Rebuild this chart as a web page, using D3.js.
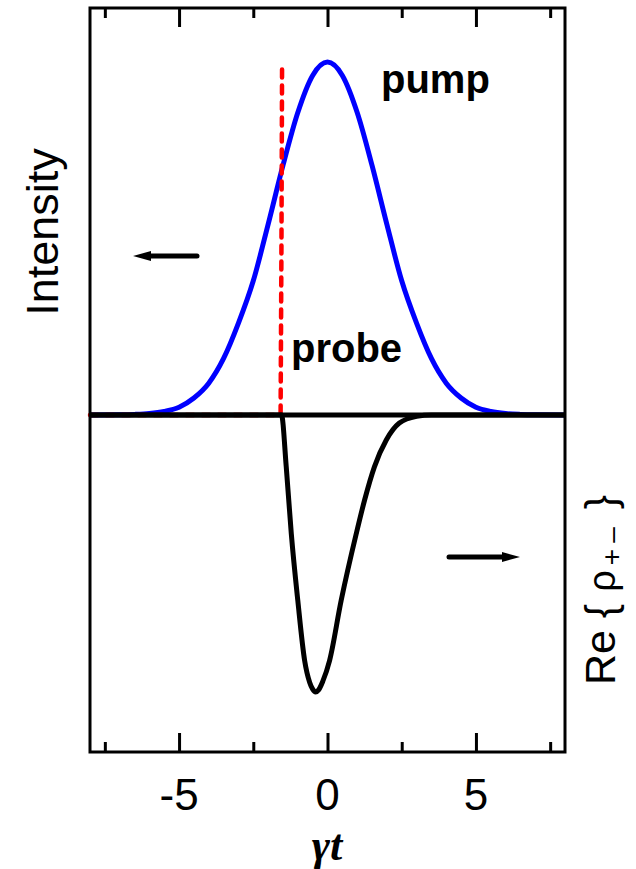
<!DOCTYPE html>
<html>
<head>
<meta charset="utf-8">
<script src="https://cdn.jsdelivr.net/npm/d3@7"></script>
<style>
  body { margin: 0; background: #fff; }
  svg text { font-family: Arial, "Liberation Sans", sans-serif; }
</style>
</head>
<body>
<div id="chart"></div>
<script>
// pump pulse (blue)
var pumpT = [-8, -7, -6.5, -6, -5.5, -5, -4.5, -4, -3.5, -3, -2.5, -2, -1.5, -1, -0.5, 0,
             0.5, 1, 1.5, 2, 2.5, 3, 3.5, 4, 4.5, 5, 5.5, 6, 6.5, 7, 8];
var pumpV = [0, 0.0005, 0.0015, 0.004, 0.01, 0.022, 0.048, 0.09, 0.16, 0.26, 0.38, 0.54, 0.707, 0.857, 0.962, 1,
             0.962, 0.857, 0.707, 0.54, 0.38, 0.26, 0.16, 0.09, 0.048, 0.022, 0.01, 0.004, 0.0015, 0.0005, 0];

// probe (red dashed)
var probeT = [-8, -1.58, -1.55, -1.53];
var probeV = [0, 0, 0.5, 1.0];

// Re{rho+-} (black)
var reT = [-8, -1.55, -1.39, -1.22, -1.0, -0.77, -0.6, -0.5, -0.4, -0.3, -0.16, 0.07, 0.46, 0.97, 1.25, 1.58, 1.98, 2.42, 3.0, 3.5, 8];
var reV = [0, 0, -0.147, -0.336, -0.526, -0.696, -0.758, -0.777, -0.785, -0.779, -0.755, -0.696, -0.526, -0.336, -0.241, -0.147, -0.071, -0.023, -0.004, 0, 0];

var majorTicks = [-5, 0, 5];
var minorTicks = [-7.5, -2.5, 2.5, 7.5];

var W = 636, H = 869;
var margin = {top: 8, right: 71, bottom: 117, left: 90};
var width = W - margin.left - margin.right,
    height = H - margin.top - margin.bottom;

var svg = d3.select('#chart').append('svg')
    .attr('width', W)
    .attr('height', H);

var g = svg.append('g')
    .attr('transform', 'translate(' + margin.left + ',' + margin.top + ')');

var x = d3.scaleLinear().domain([-8, 8]).range([0, width]);
var y = d3.scaleLinear().domain([-0.955, 1.153]).range([height, 0]);

var line = d3.line()
    .curve(d3.curveMonotoneX)
    .x(d => x(d[0]))
    .y(d => y(d[1]));

// pump
g.append('path')
    .datum(pumpT.map((t, i) => [t, pumpV[i]]))
    .attr('fill', 'none')
    .attr('stroke', '#0000ff')
    .attr('stroke-width', 5)
    .attr('d', line);

// probe
g.append('path')
    .datum(probeT.map((t, i) => [t, probeV[i]]))
    .attr('fill', 'none')
    .attr('stroke', '#ff0000')
    .attr('stroke-width', 4.5)
    .attr('stroke-dasharray', '8,8')
    .attr('stroke-linecap', 'round')
    .attr('d', d3.line().x(d => x(d[0])).y(d => y(d[1])));

// zero line
g.append('line')
    .attr('x1', 0).attr('x2', width)
    .attr('y1', y(0)).attr('y2', y(0))
    .attr('stroke', '#000')
    .attr('stroke-width', 5);

// Re{rho}
g.append('path')
    .datum(reT.map((t, i) => [t, reV[i]]))
    .attr('fill', 'none')
    .attr('stroke', '#000')
    .attr('stroke-width', 5)
    .attr('stroke-linejoin', 'round')
    .attr('d', line);

// ticks (inward, top and bottom)
function ticks(axisFn, ty, size, vals) {
    var a = g.append('g')
        .attr('transform', 'translate(0,' + ty + ')')
        .call(axisFn(x).tickValues(vals).tickSizeInner(size).tickSizeOuter(0).tickFormat(''));
    a.select('.domain').remove();
    a.selectAll('line').attr('stroke-width', 3);
    return a;
}
ticks(d3.axisBottom, height, -19, majorTicks);
ticks(d3.axisBottom, height, -10, minorTicks);
ticks(d3.axisTop, 0, -19, majorTicks);
ticks(d3.axisTop, 0, -10, minorTicks);

// tick labels
g.selectAll('.tlabel')
    .data(majorTicks)
    .enter().append('text')
    .attr('class', 'tlabel')
    .attr('x', d => x(d))
    .attr('y', height + 58)
    .attr('text-anchor', 'middle')
    .style('font-size', '44px')
    .text(d => d);

// frame
g.append('rect')
    .attr('width', width)
    .attr('height', height)
    .attr('fill', 'none')
    .attr('stroke', '#000')
    .attr('stroke-width', 3);

// x title
svg.append('text')
    .attr('x', 327)
    .attr('y', 860)
    .attr('text-anchor', 'middle')
    .style('font-family', '"Liberation Serif", "Times New Roman", serif')
    .style('font-style', 'italic')
    .style('font-weight', 'bold')
    .style('font-size', '44px')
    .text('\u03b3t');

// left y label
svg.append('text')
    .attr('transform', 'translate(58,232) rotate(-90)')
    .attr('text-anchor', 'middle')
    .style('font-size', '45px')
    .text('Intensity');

// right y label
var rl = svg.append('text')
    .attr('transform', 'translate(615,590) rotate(-90)')
    .attr('text-anchor', 'middle')
    .style('font-size', '43px');
rl.append('tspan').text('Re { ');
rl.append('tspan').style('font-size', '38px').text('\u03c1');
rl.append('tspan').style('font-size', '28px').attr('dy', 6).attr('dx', 5)
    .style('letter-spacing', '6px').text('+\u2013');
rl.append('tspan').attr('dy', -6).text(' }');

// curve labels
svg.append('text')
    .attr('x', 381).attr('y', 93)
    .style('font-weight', 'bold')
    .style('font-size', '40px')
    .text('pump');
svg.append('text')
    .attr('x', 291).attr('y', 362)
    .style('font-weight', 'bold')
    .style('font-size', '40px')
    .text('probe');

// arrows
var defs = svg.append('defs');
defs.append('marker')
    .attr('id', 'head')
    .attr('viewBox', '0 0 18 10')
    .attr('refX', 0).attr('refY', 5)
    .attr('markerUnits', 'userSpaceOnUse')
    .attr('markerWidth', 18).attr('markerHeight', 10)
    .attr('orient', 'auto')
    .append('path')
    .attr('d', 'M0,0 L18,5 L0,10 Z')
    .attr('fill', '#000');

svg.append('line')
    .attr('x1', 197).attr('y1', 256)
    .attr('x2', 151).attr('y2', 256)
    .attr('stroke', '#000').attr('stroke-width', 5)
    .attr('stroke-linecap', 'round')
    .attr('marker-end', 'url(#head)');
svg.append('line')
    .attr('x1', 449).attr('y1', 557)
    .attr('x2', 502).attr('y2', 557)
    .attr('stroke', '#000').attr('stroke-width', 5)
    .attr('stroke-linecap', 'round')
    .attr('marker-end', 'url(#head)');
</script>
</body>
</html>
